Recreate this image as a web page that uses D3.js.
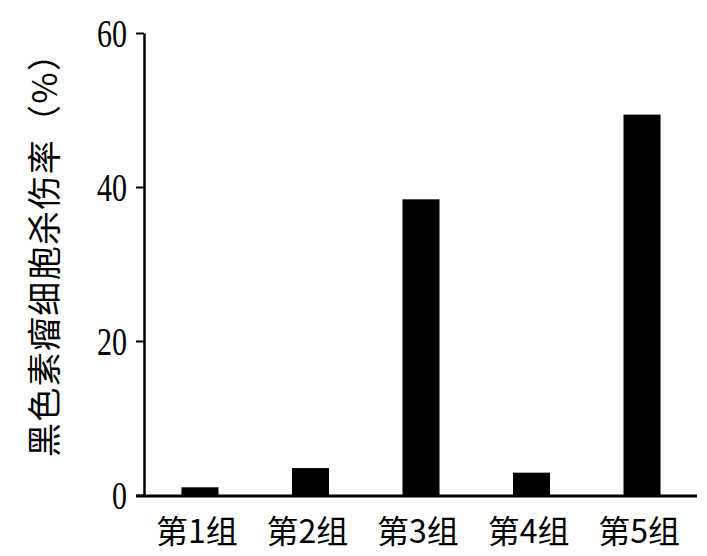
<!DOCTYPE html>
<html><head><meta charset="utf-8">
<script src="https://cdn.jsdelivr.net/npm/d3@7"></script>
<style>body{margin:0;background:#fff}</style>
</head><body>
<script>
const categories = ["第1组","第2组","第3组","第4组","第5组"];
const values = [1, 3.5, 38.4, 2.9, 49.4];
const yTicks = [0, 20, 40, 60];
const yLabel = "黑色素瘤细胞杀伤率（%）";

const W = 707, H = 556;
const svg = d3.select("body").append("svg").attr("width", W).attr("height", H);

const x = d3.scaleBand().domain(categories).range([145, 697]).paddingInner(0.665).paddingOuter(0.33);
const y = d3.scaleLinear().domain([0, 60]).range([495, 33]);

// bars
svg.selectAll("rect.bar").data(values).enter().append("rect")
  .attr("class","bar")
  .attr("x", (d,i) => x(categories[i]))
  .attr("width", x.bandwidth())
  .attr("y", d => y(d))
  .attr("height", d => y(0) - y(d))
  .attr("fill", "#000");

// y axis
const ya = svg.append("g").attr("transform","translate(144,0)")
  .call(d3.axisLeft(y).tickValues(yTicks).tickSize(8).tickSizeOuter(0).tickPadding(9));
ya.select(".domain").attr("stroke","#000").attr("stroke-width",2.5);
ya.selectAll(".tick line").attr("stroke","#000").attr("stroke-width",2);
ya.selectAll(".tick text").attr("font-family","'Liberation Serif', serif")
  .attr("font-size",41).attr("fill","#000").attr("dy","0.33em")
  .attr("textLength", d => String(d).length * 15)
  .attr("lengthAdjust","spacingAndGlyphs");

// x axis line
svg.append("line").attr("x1",136).attr("x2",697).attr("y1",y(0)+1).attr("y2",y(0)+1)
  .attr("stroke","#000").attr("stroke-width",3);

// x labels
svg.selectAll("text.xl").data(categories).enter().append("text")
  .attr("class","xl")
  .attr("x", d => x(d) + x.bandwidth()/2 - 3)
  .attr("y", 543)
  .attr("text-anchor","middle")
  .attr("font-family","'Noto Sans CJK SC', sans-serif")
  .attr("font-size",32)
  .attr("fill","#000")
  .text(d => d);

// y label
svg.append("text")
  .attr("transform","translate(57,247) rotate(-90)")
  .attr("text-anchor","middle")
  .attr("font-family","'Noto Sans CJK SC', sans-serif")
  .attr("font-size",34)
  .attr("textLength",420)
  .attr("lengthAdjust","spacing")
  .attr("fill","#000")
  .text(yLabel);
</script>
</body></html>
